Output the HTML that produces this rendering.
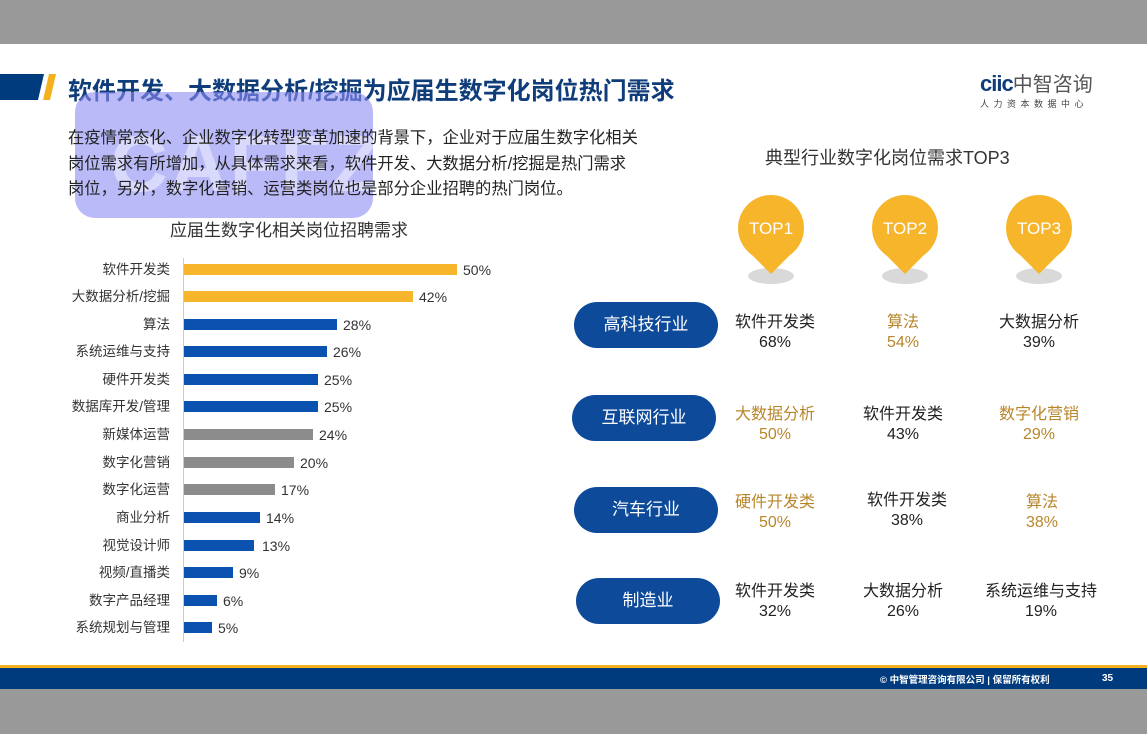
<!DOCTYPE html>
<html><head><meta charset="utf-8"><style>
*{margin:0;padding:0;box-sizing:border-box}
body{width:1147px;height:734px;position:relative;background:#fff;font-family:"Liberation Sans","Noto Sans CJK SC",sans-serif;overflow:hidden}
.a{position:absolute;white-space:nowrap}
.lbl{position:absolute;right:977px;font-size:13.5px;color:#333;line-height:16px}
.bar{position:absolute;left:184px;height:11px}
.pct{position:absolute;font-size:14px;color:#333;line-height:16px}
.pill{position:absolute;width:144px;height:46px;border-radius:23px;background:#0d4a9a;color:#fff;font-size:17px;text-align:center;line-height:46px}
.cell{position:absolute;width:150px;text-align:center;font-size:16px;line-height:20px;color:#222}
.g{color:#b8862a}
</style></head><body>
<div class="a" style="left:0;top:0;width:1147px;height:44px;background:#999"></div>
<div class="a" style="left:0;top:665px;width:1147px;height:3px;background:#f5b01e"></div>
<div class="a" style="left:0;top:668px;width:1147px;height:21px;background:#003b7d"></div>
<div class="a" style="left:0;top:689px;width:1147px;height:45px;background:#999"></div>
<div class="a" style="left:880px;top:672px;font-size:9.5px;color:#fff;font-weight:bold">© 中智管理咨询有限公司 | 保留所有权利</div>
<div class="a" style="left:1102px;top:673px;font-size:10px;color:#fff;font-weight:bold">35</div>

<svg class="a" style="left:0;top:74px" width="60" height="26"><polygon points="0,0 44,0 38,26 0,26" fill="#003b7d"/><polygon points="49,0 56,0 50,26 43,26" fill="#f5b01e"/></svg>
<div class="a" style="left:68px;top:71px;font-size:24px;color:#0f3d7a;font-weight:bold">软件开发、大数据分析/挖掘为应届生数字化岗位热门需求</div>

<div class="a" style="left:980px;top:68px;font-size:22px;color:#0f3d7a;font-weight:bold;letter-spacing:-1px">ciic<span style="color:#555;font-weight:normal;letter-spacing:0;font-size:20px">中智咨询</span></div>
<div class="a" style="left:980px;top:97px;font-size:9px;color:#444;letter-spacing:4.5px">人力资本数据中心</div>

<div class="a" style="left:75px;top:92px;width:298px;height:126px;border-radius:20px;background:rgba(140,140,245,0.6)"></div>
<div class="a" style="left:110px;top:118px;font-size:80px;font-weight:bold;color:rgba(255,255,255,0.45);letter-spacing:2px">CAFFZ</div>

<div class="a" style="left:68px;top:126px;font-size:16.3px;color:#222;line-height:25.5px">在疫情常态化、企业数字化转型变革加速的背景下，企业对于应届生数字化相关<br>岗位需求有所增加，从具体需求来看，软件开发、大数据分析/挖掘是热门需求<br>岗位，另外，数字化营销、运营类岗位也是部分企业招聘的热门岗位。</div>
<div class="a" style="left:170px;top:216px;font-size:17px;color:#333">应届生数字化相关岗位招聘需求</div>

<div class="a" style="left:183px;top:258px;width:1px;height:384px;background:#ccc"></div>

<div class="lbl" style="top:262px">软件开发类</div><div class="bar" style="top:264px;width:273px;background:#f7b52c"></div><div class="pct" style="top:262px;left:463px">50%</div>
<div class="lbl" style="top:289px">大数据分析/挖掘</div><div class="bar" style="top:291px;width:229px;background:#f7b52c"></div><div class="pct" style="top:289px;left:419px">42%</div>
<div class="lbl" style="top:317px">算法</div><div class="bar" style="top:319px;width:153px;background:#0b52b0"></div><div class="pct" style="top:317px;left:343px">28%</div>
<div class="lbl" style="top:344px">系统运维与支持</div><div class="bar" style="top:346px;width:143px;background:#0b52b0"></div><div class="pct" style="top:344px;left:333px">26%</div>
<div class="lbl" style="top:372px">硬件开发类</div><div class="bar" style="top:374px;width:134px;background:#0b52b0"></div><div class="pct" style="top:372px;left:324px">25%</div>
<div class="lbl" style="top:399px">数据库开发/管理</div><div class="bar" style="top:401px;width:134px;background:#0b52b0"></div><div class="pct" style="top:399px;left:324px">25%</div>
<div class="lbl" style="top:427px">新媒体运营</div><div class="bar" style="top:429px;width:129px;background:#8c8c8c"></div><div class="pct" style="top:427px;left:319px">24%</div>
<div class="lbl" style="top:455px">数字化营销</div><div class="bar" style="top:457px;width:110px;background:#8c8c8c"></div><div class="pct" style="top:455px;left:300px">20%</div>
<div class="lbl" style="top:482px">数字化运营</div><div class="bar" style="top:484px;width:91px;background:#8c8c8c"></div><div class="pct" style="top:482px;left:281px">17%</div>
<div class="lbl" style="top:510px">商业分析</div><div class="bar" style="top:512px;width:76px;background:#0b52b0"></div><div class="pct" style="top:510px;left:266px">14%</div>
<div class="lbl" style="top:538px">视觉设计师</div><div class="bar" style="top:540px;width:70px;background:#0b52b0"></div><div class="pct" style="top:538px;left:262px">13%</div>
<div class="lbl" style="top:565px">视频/直播类</div><div class="bar" style="top:567px;width:49px;background:#0b52b0"></div><div class="pct" style="top:565px;left:239px">9%</div>
<div class="lbl" style="top:593px">数字产品经理</div><div class="bar" style="top:595px;width:33px;background:#0b52b0"></div><div class="pct" style="top:593px;left:223px">6%</div>
<div class="lbl" style="top:620px">系统规划与管理</div><div class="bar" style="top:622px;width:28px;background:#0b52b0"></div><div class="pct" style="top:620px;left:218px">5%</div>

<div class="a" style="left:765px;top:144px;font-size:18px;color:#333">典型行业数字化岗位需求TOP3</div>

<svg class="a" style="left:700px;top:190px" width="420" height="100">
<g fill="#d9d9d9"><ellipse cx="71" cy="86" rx="23" ry="8"/><ellipse cx="205" cy="86" rx="23" ry="8"/><ellipse cx="339" cy="86" rx="23" ry="8"/></g>
<g fill="#f7b52c">
<circle cx="71" cy="38" r="33"/><polygon points="45,58 97,58 71,84"/>
<circle cx="205" cy="38" r="33"/><polygon points="179,58 231,58 205,84"/>
<circle cx="339" cy="38" r="33"/><polygon points="313,58 365,58 339,84"/>
</g>
<g fill="#fff" font-size="17" text-anchor="middle" font-family="Liberation Sans,sans-serif">
<text x="71" y="44">TOP1</text><text x="205" y="44">TOP2</text><text x="339" y="44">TOP3</text></g>
</svg>

<div class="pill" style="left:574px;top:302px">高科技行业</div>
<div class="pill" style="left:572px;top:395px">互联网行业</div>
<div class="pill" style="left:574px;top:487px">汽车行业</div>
<div class="pill" style="left:576px;top:578px">制造业</div>

<div class="cell" style="left:700px;top:313px">软件开发类<br>68%</div>
<div class="cell g" style="left:828px;top:313px">算法<br>54%</div>
<div class="cell" style="left:964px;top:313px">大数据分析<br>39%</div>

<div class="cell g" style="left:700px;top:405px">大数据分析<br>50%</div>
<div class="cell" style="left:828px;top:405px">软件开发类<br>43%</div>
<div class="cell g" style="left:964px;top:405px">数字化营销<br>29%</div>

<div class="cell g" style="left:700px;top:493px">硬件开发类<br>50%</div>
<div class="cell" style="left:832px;top:491px">软件开发类<br>38%</div>
<div class="cell g" style="left:967px;top:493px">算法<br>38%</div>

<div class="cell" style="left:700px;top:582px">软件开发类<br>32%</div>
<div class="cell" style="left:828px;top:582px">大数据分析<br>26%</div>
<div class="cell" style="left:966px;top:582px">系统运维与支持<br>19%</div>
</body></html>
